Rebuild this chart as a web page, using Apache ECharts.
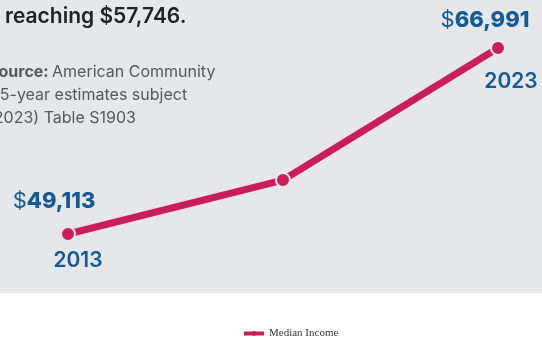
<!DOCTYPE html>
<html>
<head>
<meta charset="utf-8">
<script src="https://cdn.jsdelivr.net/npm/echarts@6/dist/echarts.min.js"></script>
<style>html,body{margin:0;padding:0;background:#fff}#c{width:542px;height:337px}</style>
</head>
<body>
<div id="c"></div>
<script>
var categories = ['2013', '2018', '2023'];
var medianIncome = [49113, 54300, 66991];
var seriesName = 'Median Income';
var headline = 'reaching $57,746.';
var sourceLines = ['Source: American Community', '(5-year estimates subject', '(2013-2023) Table S1903'];

var BLUE = '#175a93';
var RED = '#c91f59';

// label placement per labeled point (style only)
var valueLabelCfg = { 0: { distance: 14, offset: [-14, 0] }, 2: { distance: 9, offset: [-13, 0] } };
var yearLabelCfg = { 0: { distance: 9, offset: [10, 0] }, 2: { distance: 16, offset: [13, 0] } };

function fmt(v) { return v.toLocaleString('en-US'); }

var lineData = medianIncome.map(function (v, i) {
  var c = valueLabelCfg[i];
  if (!c) return v;
  return {
    value: v,
    label: {
      show: true, position: 'top', distance: c.distance, offset: c.offset,
      formatter: function (p) { return '{d|$}{n|' + fmt(p.value) + '}'; },
      rich: {
        d: { fontFamily: 'Inter', fontSize: 22, fontWeight: 400, color: BLUE },
        n: { fontFamily: 'Inter', fontSize: 22, fontWeight: 800, color: BLUE }
      }
    }
  };
});
var yearData = medianIncome.map(function (v, i) {
  var c = yearLabelCfg[i];
  if (!c) return v;
  return {
    value: v,
    label: {
      show: true, position: 'bottom', distance: c.distance, offset: c.offset,
      formatter: function (p) { return p.name; },
      fontFamily: 'Inter', fontSize: 21, fontWeight: 600, color: BLUE
    }
  };
});

var chart = echarts.init(document.getElementById('c'));
chart.setOption({
  animation: false,
  backgroundColor: '#ffffff',
  graphic: [
    { type: 'rect', z: -10, shape: { x: 0, y: 0, width: 542, height: 293 }, style: { fill: '#e6e7e9' } },
    { type: 'text', left: 5, top: 6, style: { text: headline, font: '600 21px Inter', fill: '#222222' } },
    { type: 'text', x: -12, y: 64, style: { rich: { b: { font: '700 16px Inter', fill: '#555759' }, r: { font: '400 16px Inter', fill: '#555759' } }, text: '{b|Source:} {r|American Community}' } },
    { type: 'text', x: -6, y: 87, style: { text: sourceLines[1], font: '400 16px Inter', fill: '#555759' } },
    { type: 'text', x: -12, y: 110, style: { text: sourceLines[2].replace('2013-', ''), font: '400 16px Inter', fill: '#555759' } }
  ],
  legend: {
    data: [seriesName],
    top: 323,
    left: 237,
    itemWidth: 20,
    itemHeight: 6,
    itemGap: 2,
    lineStyle: { width: 4 },
    itemStyle: { borderWidth: 0 },
    textStyle: { fontFamily: 'Liberation Serif', fontSize: 11, color: '#333' }
  },
  grid: { left: 68, right: 44, top: 16.7, bottom: 60.2 },
  xAxis: {
    type: 'category', data: categories, boundaryGap: false, show: false
  },
  yAxis: { type: 'value', min: 45000, max: 70000, show: false },
  series: [
    {
      name: seriesName, type: 'line', data: lineData,
      symbol: 'circle', symbolSize: 14,
      lineStyle: { color: RED, width: 7 },
      itemStyle: { color: RED, borderColor: '#e6e7e9', borderWidth: 2 },
      z: 3
    },
    {
      name: 'Year', type: 'line', data: yearData, silent: true,
      symbol: 'circle', symbolSize: 14, showSymbol: true,
      itemStyle: { color: 'rgba(0,0,0,0)', borderWidth: 0 },
      lineStyle: { width: 0, opacity: 0 }, z: 4
    }
  ]
});
</script>
</body>
</html>
